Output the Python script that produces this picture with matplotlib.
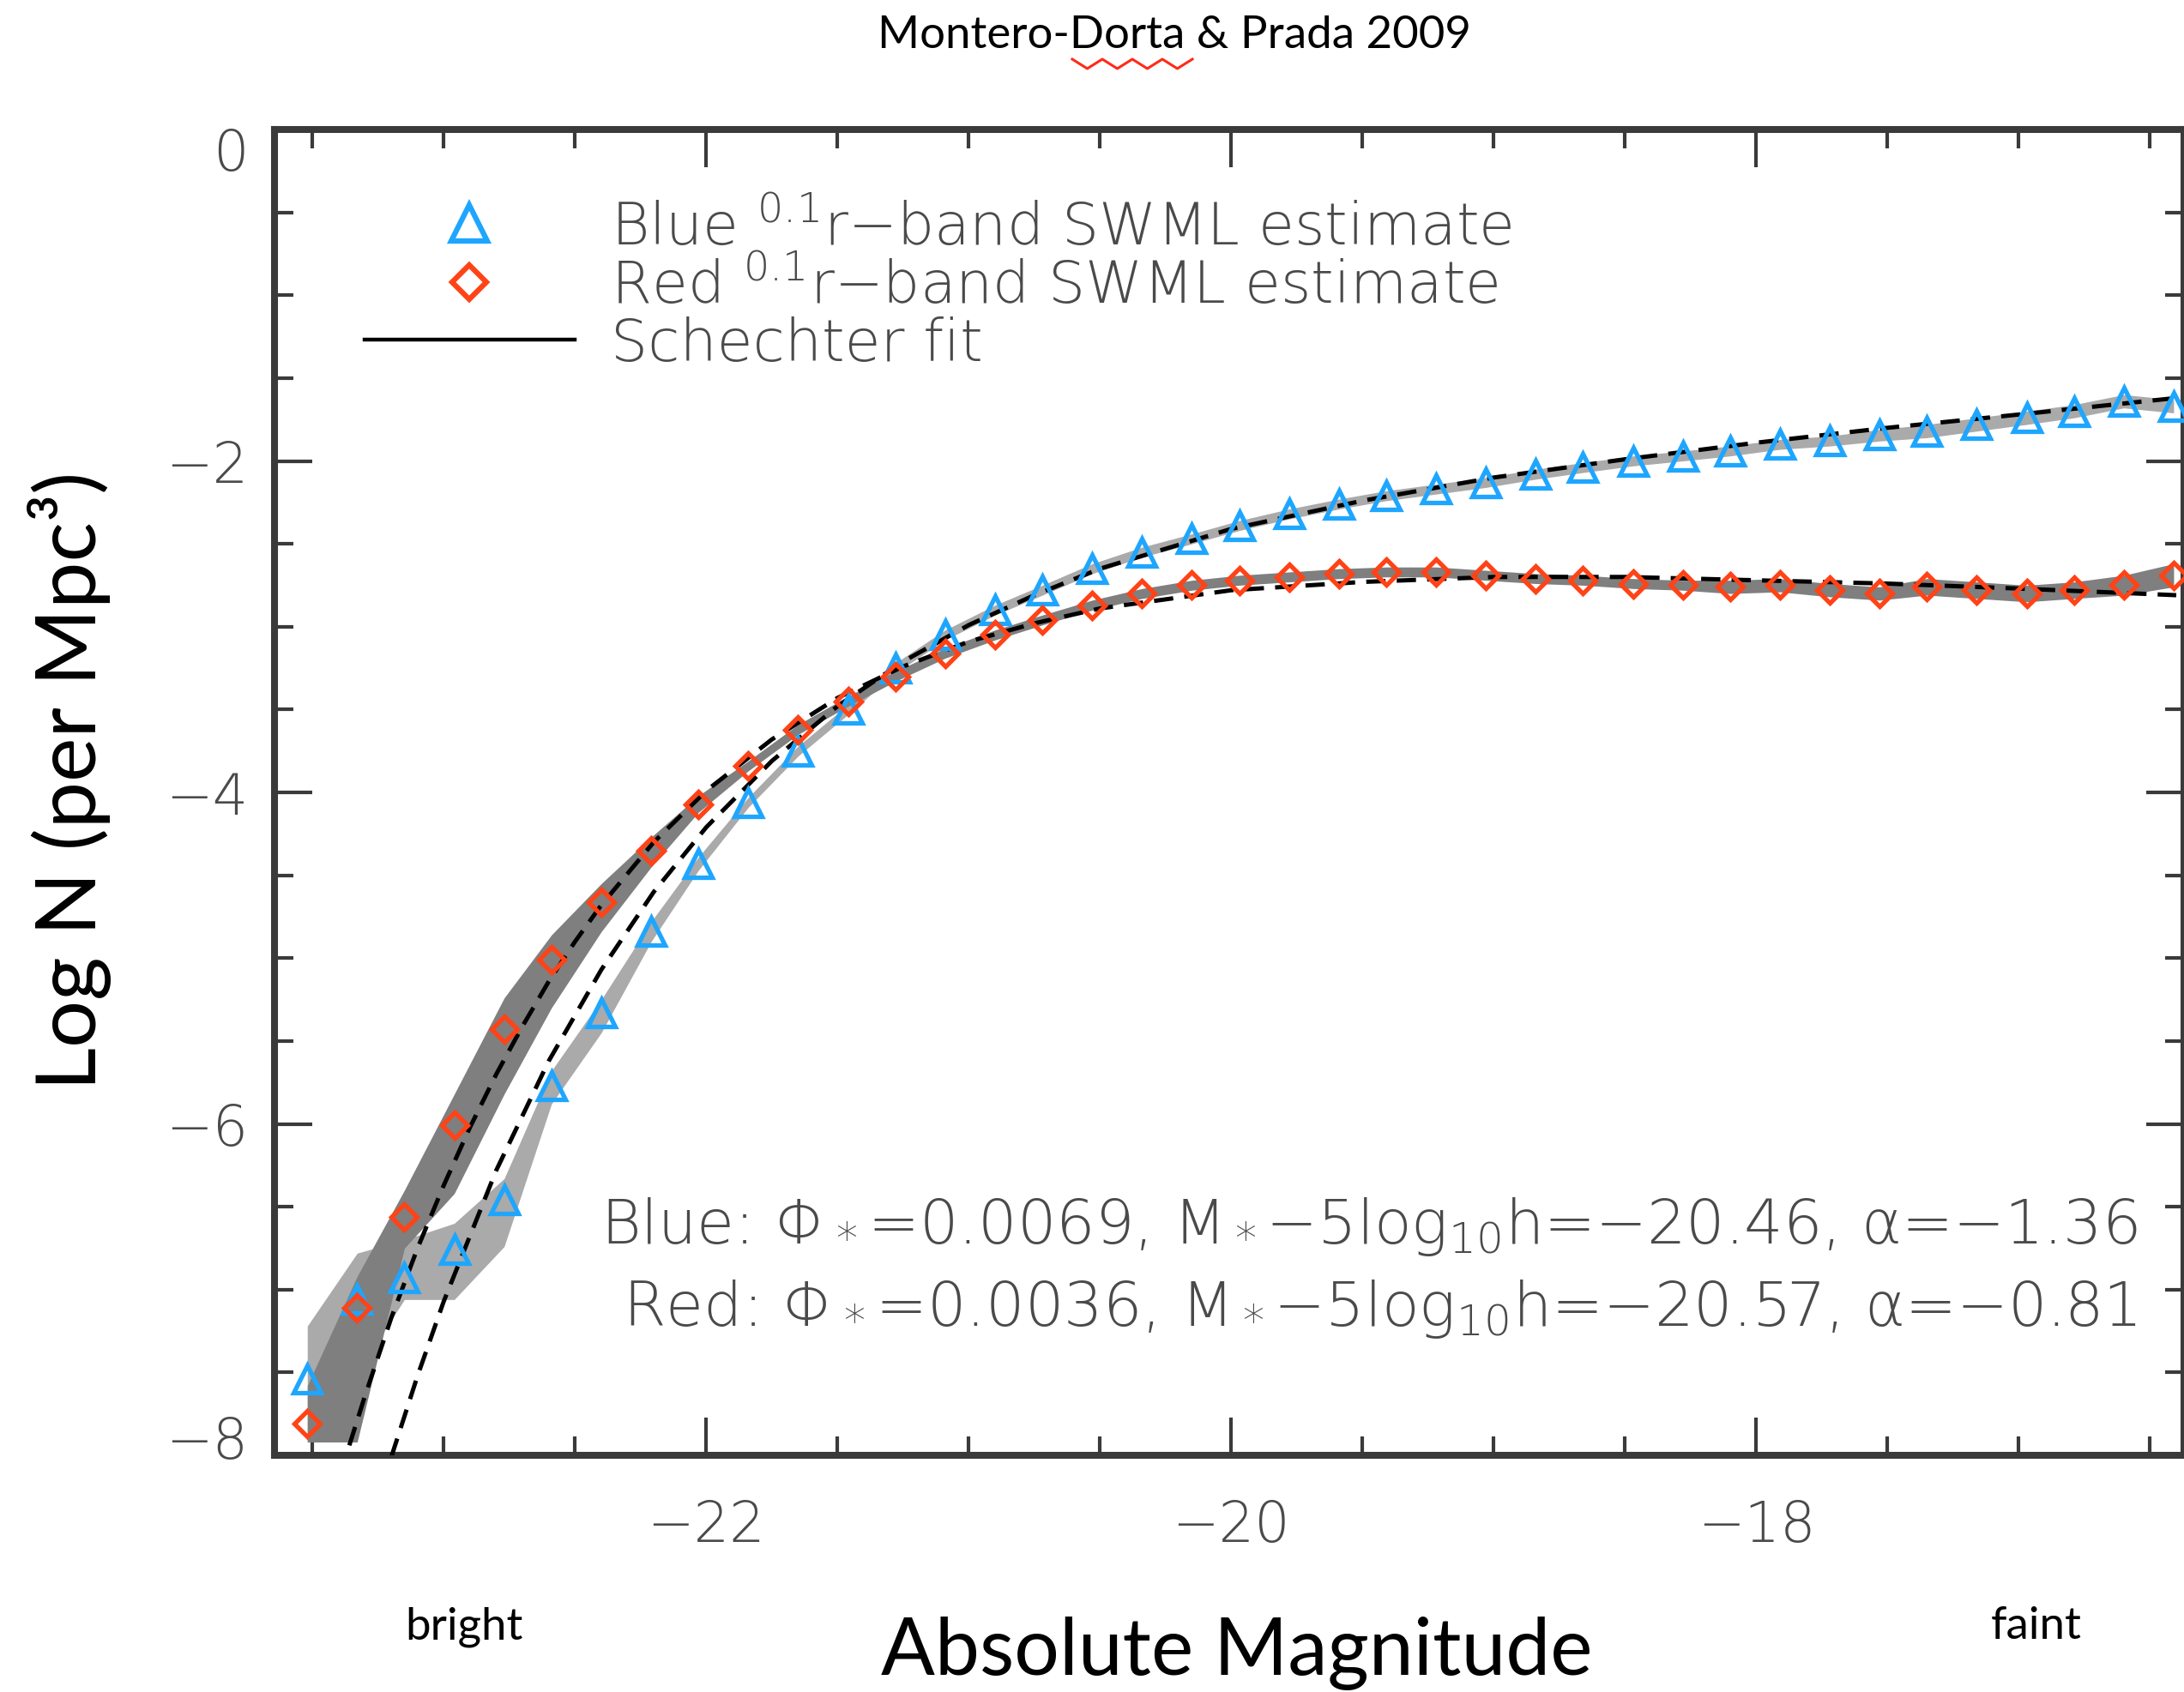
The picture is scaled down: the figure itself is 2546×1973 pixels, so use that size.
import numpy as np
import matplotlib
matplotlib.use("Agg")
import matplotlib.pyplot as plt
import matplotlib.transforms as mtransforms
from matplotlib.lines import Line2D
from matplotlib.ticker import MultipleLocator

# SWML luminosity function estimates
mag = [-23.52, -23.33, -23.15, -22.96, -22.77, -22.59, -22.40, -22.21, -22.03, -21.84,
       -21.65, -21.46, -21.28, -21.09, -20.90, -20.72, -20.53, -20.34, -20.15, -19.97,
       -19.78, -19.59, -19.41, -19.22, -19.03, -18.84, -18.66, -18.47, -18.28, -18.10,
       -17.91, -17.72, -17.53, -17.35, -17.16, -16.97, -16.79, -16.60, -16.41]

blue = [-7.54, -7.06, -6.93, -6.76, -6.46, -5.77, -5.33, -4.84, -4.43, -4.06,
        -3.75, -3.50, -3.25, -3.05, -2.90, -2.78, -2.65, -2.55, -2.47, -2.39,
        -2.32, -2.26, -2.21, -2.17, -2.13, -2.08, -2.04, -2.00, -1.97, -1.94,
        -1.90, -1.88, -1.84, -1.82, -1.78, -1.74, -1.70, -1.64, -1.67]
blue_lo = [-7.92, -7.50, -7.06, -7.06, -6.74, -5.88, -5.45, -4.90, -4.47, -4.09,
           -3.78, -3.53, -3.28, -3.08, -2.93, -2.81, -2.68, -2.58, -2.50, -2.42,
           -2.35, -2.29, -2.24, -2.20, -2.16, -2.11, -2.07, -2.03, -2.00, -1.97,
           -1.93, -1.91, -1.88, -1.86, -1.82, -1.78, -1.74, -1.68, -1.71]
blue_hi = [-7.22, -6.78, -6.70, -6.60, -6.33, -5.68, -5.25, -4.78, -4.39, -4.03,
           -3.72, -3.47, -3.22, -3.02, -2.87, -2.75, -2.62, -2.52, -2.44, -2.36,
           -2.29, -2.23, -2.18, -2.14, -2.10, -2.05, -2.01, -1.97, -1.94, -1.91,
           -1.87, -1.85, -1.81, -1.78, -1.74, -1.70, -1.66, -1.60, -1.63]

red = [-7.81, -7.11, -6.56, -6.01, -5.43, -5.01, -4.66, -4.35, -4.07, -3.84,
       -3.62, -3.45, -3.30, -3.16, -3.05, -2.96, -2.87, -2.80, -2.75, -2.72,
       -2.70, -2.68, -2.67, -2.67, -2.69, -2.71, -2.72, -2.74, -2.75, -2.76,
       -2.75, -2.78, -2.80, -2.76, -2.78, -2.80, -2.78, -2.75, -2.69]
red_lo = [-7.92, -7.92, -6.75, -6.42, -5.82, -5.30, -4.84, -4.45, -4.12, -3.87,
          -3.65, -3.48, -3.33, -3.19, -3.08, -2.99, -2.90, -2.83, -2.78, -2.75,
          -2.73, -2.71, -2.70, -2.70, -2.72, -2.74, -2.75, -2.77, -2.78, -2.80,
          -2.79, -2.82, -2.84, -2.81, -2.83, -2.85, -2.83, -2.81, -2.76]
red_hi = [-7.58, -6.92, -6.40, -5.82, -5.24, -4.86, -4.55, -4.27, -4.02, -3.81,
          -3.59, -3.42, -3.27, -3.13, -3.02, -2.93, -2.84, -2.77, -2.72, -2.69,
          -2.67, -2.65, -2.64, -2.64, -2.66, -2.68, -2.69, -2.71, -2.72, -2.72,
          -2.71, -2.74, -2.76, -2.71, -2.73, -2.75, -2.73, -2.69, -2.62]

# Schechter fits (dashed)
fit_mag_blue = [-23.2, -23.1, -23.0, -22.8, -22.6, -22.4, -22.2, -22.0, -21.75, -21.5, -21.25,
                -21.0, -20.75, -20.5, -20.0, -19.5, -19.0, -18.5, -18.0, -17.5, -17.0, -16.4]
fit_blue = [-8.01, -7.52, -7.07, -6.28, -5.62, -5.07, -4.60, -4.21, -3.81, -3.48, -3.21,
            -2.99, -2.81, -2.65, -2.41, -2.24, -2.10, -1.99, -1.89, -1.80, -1.72, -1.62]
fit_mag_red = [-23.36, -23.3, -23.2, -23.1, -23.0, -22.9, -22.8, -22.7, -22.6, -22.5, -22.4,
               -22.2, -22.0, -21.75, -21.5, -21.25, -21.0, -20.75, -20.5, -20.0, -19.5,
               -19.0, -18.5, -18.0, -17.5, -17.0, -16.4]
fit_red = [-7.94, -7.64, -7.17, -6.75, -6.37, -6.02, -5.70, -5.41, -5.14, -4.90, -4.68,
           -4.30, -3.99, -3.68, -3.43, -3.24, -3.09, -2.98, -2.89, -2.78, -2.73,
           -2.70, -2.70, -2.72, -2.74, -2.77, -2.81]

BLUE = "#1ea6ff"
RED = "#ff4317"
TXT = "#4a4a4a"
SPINE = "#3a3a3a"
IDL = "DejaVu Sans"

plt.rcParams["mathtext.fontset"] = "custom"
plt.rcParams["mathtext.rm"] = "DejaVu Sans:light"
plt.rcParams["mathtext.it"] = "DejaVu Sans:light"
plt.rcParams["mathtext.bf"] = "DejaVu Sans:bold"

W, H = 2546, 1974
fig = plt.figure(figsize=(W / 100, H / 100), dpi=100)
ax = fig.add_axes([320 / W, 1 - 1698 / H, 1 - 320 / W, (1698 - 152) / H])

# uncertainty bands
ax.fill_between(mag, blue_lo, blue_hi, color="#aaaaaa", lw=0, zorder=1)
ax.fill_between(mag, red_lo, red_hi, color="#7f7f7f", lw=0, zorder=2)

# Schechter fits
ax.plot(fit_mag_red, fit_red, color="black", lw=3.6, dashes=(4.5, 2.6), zorder=3)
ax.plot(fit_mag_blue, fit_blue, color="black", lw=3.6, dashes=(4.5, 2.6), zorder=3)

# SWML points
ax.plot(mag, blue, ls="none", marker="^", ms=23, mfc="none", mec=BLUE, mew=3.8, zorder=4)
ax.plot(mag, red, ls="none", marker="D", ms=15, mfc="none", mec=RED, mew=3.8, zorder=5)

ax.set_xlim(-23.645, -23.645 + (W - 320) / 306)
ax.set_ylim(-8, 0)
ax.xaxis.set_major_locator(MultipleLocator(2))
ax.xaxis.set_minor_locator(MultipleLocator(0.5))
ax.yaxis.set_major_locator(MultipleLocator(2))
ax.yaxis.set_minor_locator(MultipleLocator(0.5))
ax.tick_params(which="both", direction="in", top=True, right=True, color=SPINE, width=3)
ax.tick_params(which="major", length=32)
ax.tick_params(which="minor", length=16)
ax.tick_params(axis="x", pad=36)
ax.tick_params(axis="y", pad=22)
for s in ax.spines.values():
    s.set_linewidth(5.8)
    s.set_color(SPINE)
for lab in ax.get_xticklabels() + ax.get_yticklabels():
    lab.set_fontfamily(IDL)
    lab.set_fontweight("light")
    lab.set_fontsize(47)
    lab.set_color(TXT)

# IDL pulls the end labels of the y axis inside the frame
fig.canvas.draw()
for t in ax.yaxis.get_major_ticks():
    v = t.get_loc()
    if abs(v) < 1e-9:
        t.label1.set_transform(t.label1.get_transform()
                               + mtransforms.ScaledTranslation(0, -16 / 72, fig.dpi_scale_trans))
    elif abs(v + 8) < 1e-9:
        t.label1.set_transform(t.label1.get_transform()
                               + mtransforms.ScaledTranslation(0, 16 / 72, fig.dpi_scale_trans))

# legend
handles = [
    Line2D([], [], ls="none", marker="^", ms=30, mfc="none", mec=BLUE, mew=4.5),
    Line2D([], [], ls="none", marker="D", ms=20, mfc="none", mec=RED, mew=4.5),
    Line2D([], [], color="black", lw=3.2),
]
labels = [r"Blue $^{0.1}$r−band SWML estimate",
          r"Red $^{0.1}$r−band SWML estimate",
          "Schechter fit"]
ax.legend(handles, labels, loc="upper left", bbox_to_anchor=(0.047, 0.948),
          frameon=False, handlelength=3.6, handletextpad=0.62, labelspacing=0.02,
          borderpad=0, borderaxespad=0, labelcolor=TXT,
          prop={"family": IDL, "weight": "light", "size": 49})

# fit parameters
ax.text(0.9755, 0.173,
        "Blue: Φ$_*$=0.0069, M$_*$−5log$_{10}$h=−20.46, α=−1.36",
        transform=ax.transAxes, ha="right", va="center", fontsize=51.5,
        family=IDL, weight="light", color=TXT)
ax.text(0.9755, 0.111,
        "Red: Φ$_*$=0.0036, M$_*$−5log$_{10}$h=−20.57, α=−0.81",
        transform=ax.transAxes, ha="right", va="center", fontsize=51.5,
        family=IDL, weight="light", color=TXT)

# outer annotations
fig.text(1369 / W, 1 - 41 / H, "Montero-Dorta & Prada 2009", ha="center", va="center",
         family="Lato", fontsize=38, color="black")
# spell-check squiggle under "Dorta"
zx = np.linspace(1250, 1390, 9)
zy = np.where(np.arange(9) % 2 == 0, 70, 81)
fig.add_artist(Line2D(zx / W, 1 - zy / H, color="#ff2a1a", lw=2.2))

fig.text(81 / W, 1 - 910 / H, "Log N (per Mpc³)", rotation=90, ha="center", va="center",
         family="Lato", fontsize=70, color="black")
fig.text(1442 / W, 1 - 1928 / H, "Absolute Magnitude", ha="center", va="center",
         family="Lato", fontsize=67, color="black")
fig.text(541 / W, 1 - 1897 / H, "bright", ha="center", va="center",
         family="Lato", fontsize=38, color="black")
fig.text(2374 / W, 1 - 1897 / H, "faint", ha="center", va="center",
         family="Lato", fontsize=38, color="black")

fig.savefig("out.png", dpi=100, facecolor="white")
